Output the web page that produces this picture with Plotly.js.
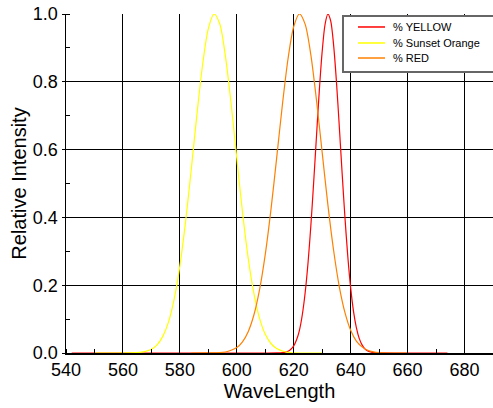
<!DOCTYPE html>
<html>
<head>
<meta charset="utf-8">
<script src="https://cdn.plot.ly/plotly-3.0.1.min.js"></script>
<style>html,body{margin:0;padding:0;background:#fff;}#chart{width:493px;height:408px;}</style>
</head>
<body>
<div id="chart"></div>
<script>
// % YELLOW (drawn red)
const redX = [542,580,610,614,616,617,618,619,620,621,622,623,624,625,626,627,628,629,630,631,632,633,634,635,636,637,638,639,640,641,642,643,644,645,646,647,648,650,660,674];
const redY = [0,0,0,0.0002,0.001,0.0024,0.005,0.011,0.021,0.039,0.067,0.112,0.177,0.264,0.374,0.503,0.641,0.776,0.890,0.969,1.0,0.979,0.909,0.801,0.669,0.530,0.399,0.284,0.192,0.123,0.075,0.043,0.024,0.012,0.006,0.003,0.001,0.0002,0,0];

// % Sunset Orange (drawn yellow)
const yellowX = [550,554,558,562,566,568,570,572,574,576,578,580,582,584,586,588,590,592,594,596,598,600,602,604,606,608,610,612,614,616,618,622,626,630];
const yellowY = [0,0,0,0.0005,0.002,0.005,0.011,0.024,0.049,0.091,0.159,0.257,0.387,0.541,0.704,0.851,0.957,1.0,0.971,0.876,0.736,0.574,0.416,0.280,0.176,0.102,0.055,0.028,0.013,0.006,0.002,0,0,0];

// % RED (drawn orange)
const orangeX = [584,590,594,596,598,600,602,604,606,608,610,612,614,616,618,620,622,624,626,628,630,632,634,636,638,640,642,644,646,648,650,654,660];
const orangeY = [0,0.0002,0.001,0.003,0.008,0.016,0.033,0.063,0.112,0.187,0.291,0.423,0.575,0.731,0.868,0.963,1.0,0.970,0.880,0.745,0.591,0.437,0.303,0.196,0.119,0.067,0.035,0.018,0.008,0.0035,0.0014,0,0];

const seriesNames = ['% YELLOW', '% Sunset Orange', '% RED'];
const seriesColors = ['#ff0000', '#ffff00', '#ff8000'];
const xTicks = [540,560,580,600,620,640,660,680];
const yTicks = [0,0.2,0.4,0.6,0.8,1.0];
const yTickText = ['0.0','0.2','0.4','0.6','0.8','1.0'];

const font = 'Liberation Sans, Arial, sans-serif';
const mk = (x, y, name, color) => ({
  x: x, y: y, name: name, type: 'scatter', mode: 'lines', showlegend: false,
  line: {color: color, width: 1.2, shape: 'spline', smoothing: 0.8}
});

const data = [
  mk(redX, redY, seriesNames[0], seriesColors[0]),
  mk(yellowX, yellowY, seriesNames[1], seriesColors[1]),
  mk(orangeX, orangeY, seriesNames[2], seriesColors[2])
];

// compact legend box (paper coordinates)
const legBox = {x0: 0.6487, x1: 1.02, y0: 0.8289, y1: 0.9941};
const legRowY = [0.9617, 0.9145, 0.8702];
const legLineX = [0.6838, 0.7471];
const legTextX = 0.7611;

const shapes = [{
  type: 'rect', xref: 'paper', yref: 'paper',
  x0: legBox.x0, x1: legBox.x1, y0: legBox.y0, y1: legBox.y1,
  line: {color: '#666', width: 2}, fillcolor: '#fff', layer: 'above'
}];
const annotations = [];
seriesNames.forEach((n, i) => {
  shapes.push({
    type: 'line', xref: 'paper', yref: 'paper',
    x0: legLineX[0], x1: legLineX[1], y0: legRowY[i], y1: legRowY[i],
    line: {color: seriesColors[i], width: 1.5}, layer: 'above'
  });
  annotations.push({
    xref: 'paper', yref: 'paper', x: legTextX, y: legRowY[i],
    xanchor: 'left', yanchor: 'middle', showarrow: false, text: n,
    font: {family: font, size: 11, color: '#000'}
  });
});

const layout = {
  width: 493, height: 408,
  margin: {l: 66, r: 0, t: 14, b: 55},
  paper_bgcolor: '#fff', plot_bgcolor: '#fff',
  font: {family: font, color: '#000'},
  showlegend: false,
  shapes: shapes,
  annotations: annotations,
  xaxis: {
    range: [540, 690], tickvals: xTicks, ticktext: xTicks.map(String),
    showgrid: true, gridcolor: '#000', gridwidth: 1,
    showline: true, linecolor: '#000', linewidth: 1.5,
    ticks: '', zeroline: false,
    tickfont: {family: font, size: 18, color: '#000'},
    minor: {dtick: 10, tick0: 550, ticks: 'inside', ticklen: 4, tickcolor: '#000', showgrid: false},
    title: {text: 'WaveLength', font: {family: font, size: 20, color: '#000'}, standoff: 4}
  },
  yaxis: {
    range: [0, 1], tickvals: yTicks, ticktext: yTickText,
    showgrid: true, gridcolor: '#000', gridwidth: 1,
    showline: true, linecolor: '#000', linewidth: 1.5,
    ticks: 'outside', ticklen: 3, tickcolor: '#000', zeroline: false,
    tickfont: {family: font, size: 18, color: '#000'},
    minor: {dtick: 0.1, tick0: 0.1, ticks: 'inside', ticklen: 4, tickcolor: '#000', showgrid: false},
    title: {text: 'Relative Intensity', font: {family: font, size: 20, color: '#000'}, standoff: 1}
  }
};

Plotly.newPlot('chart', data, layout, {displayModeBar: false, staticPlot: true});
</script>
</body>
</html>
